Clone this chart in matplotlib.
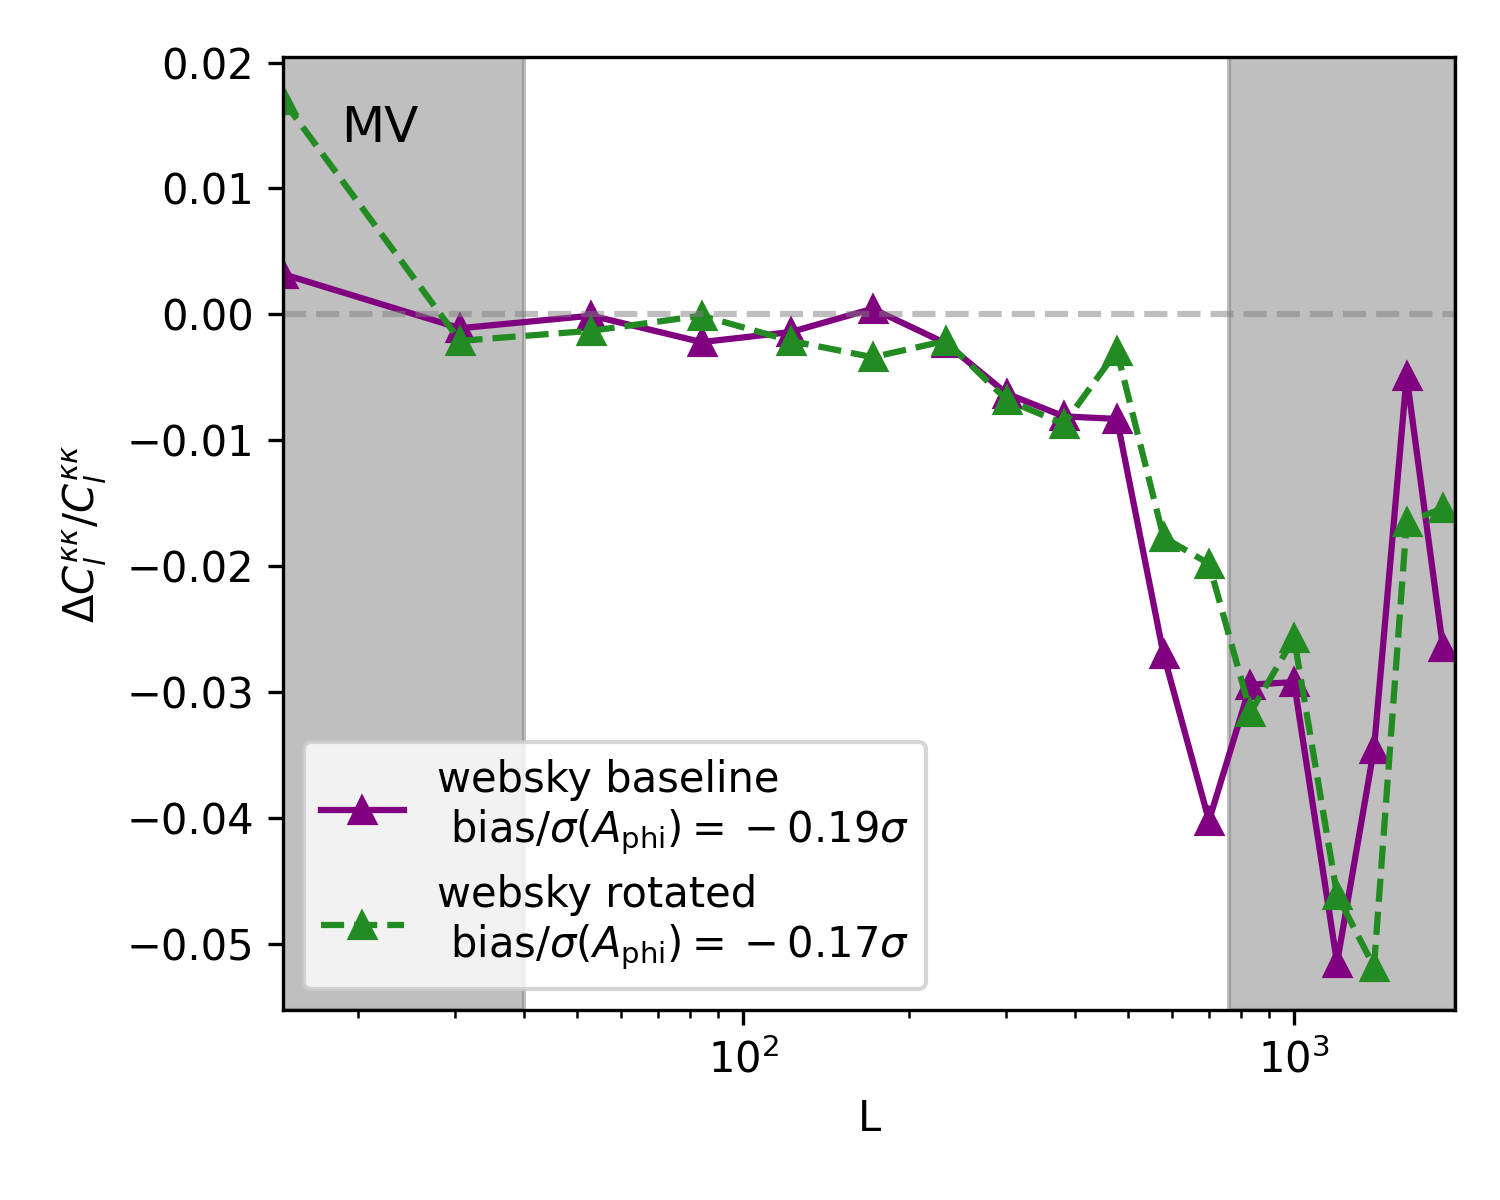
import numpy as np
import matplotlib
matplotlib.use("Agg")
import matplotlib.pyplot as plt

# bin centres (L)
ells = [14.6, 30.6, 53.0, 84.0, 122.0, 171.7, 233.2, 301.1, 382.1, 476.9,
        579.5, 700.8, 833.6, 1000.0, 1197.0, 1397.0, 1601.0, 1863.0]

# fractional bias, websky baseline
bias_baseline = [0.0032, -0.0011, -0.0001, -0.0022, -0.0014, 0.00045, -0.0023,
                 -0.0063, -0.0081, -0.0083, -0.0270, -0.0402, -0.0294, -0.0292,
                 -0.0515, -0.0345, -0.0049, -0.0264]

# fractional bias, websky rotated
bias_rotated = [0.0170, -0.0021, -0.0013, -0.0001, -0.0021, -0.0034, -0.0021,
                -0.0068, -0.0087, -0.0029, -0.0177, -0.0198, -0.0316, -0.0257,
                -0.0461, -0.0518, -0.0165, -0.0154]

# old-style mathtext spacing: minus after "=" rendered as a binary operator
labels = ["websky baseline\n bias/$\\sigma(A_{\\rm phi}) = \\:{-}\\:0.19\\sigma$",
          "websky rotated\n bias/$\\sigma(A_{\\rm phi}) = \\:{-}\\:0.17\\sigma$"]

lmin_cut = 40
lmax_cut = 762
xlims = (14.6, 1960)

fig = plt.figure(figsize=(5, 4), dpi=300)
ax = fig.add_axes([283 / 1500, 1 - 1010 / 1200, (1455 - 283) / 1500, (1010 - 57) / 1200])

ax.plot(ells, bias_baseline, '-^', color='purple', label=labels[0])
ax.plot(ells, bias_rotated, '--^', color='forestgreen', label=labels[1])
ax.axhline(0, color='gray', ls='--', alpha=0.5)

# excluded L ranges
ax.axvspan(xlims[0], lmin_cut, color='gray', alpha=0.5)
ax.axvspan(lmax_cut, xlims[1], color='gray', alpha=0.5)

ax.set_xscale('log')
ax.set_xlim(xlims)
ax.set_xlabel('L')
ax.set_ylabel(r'$\Delta C_l^{\kappa\kappa}/C_l^{\kappa\kappa}$')
ax.text(0.05, 0.9, 'MV', transform=ax.transAxes, fontsize=12, va='bottom')
ax.legend(loc='lower left', labelspacing=0.4)

fig.savefig('out.png', dpi=300)
